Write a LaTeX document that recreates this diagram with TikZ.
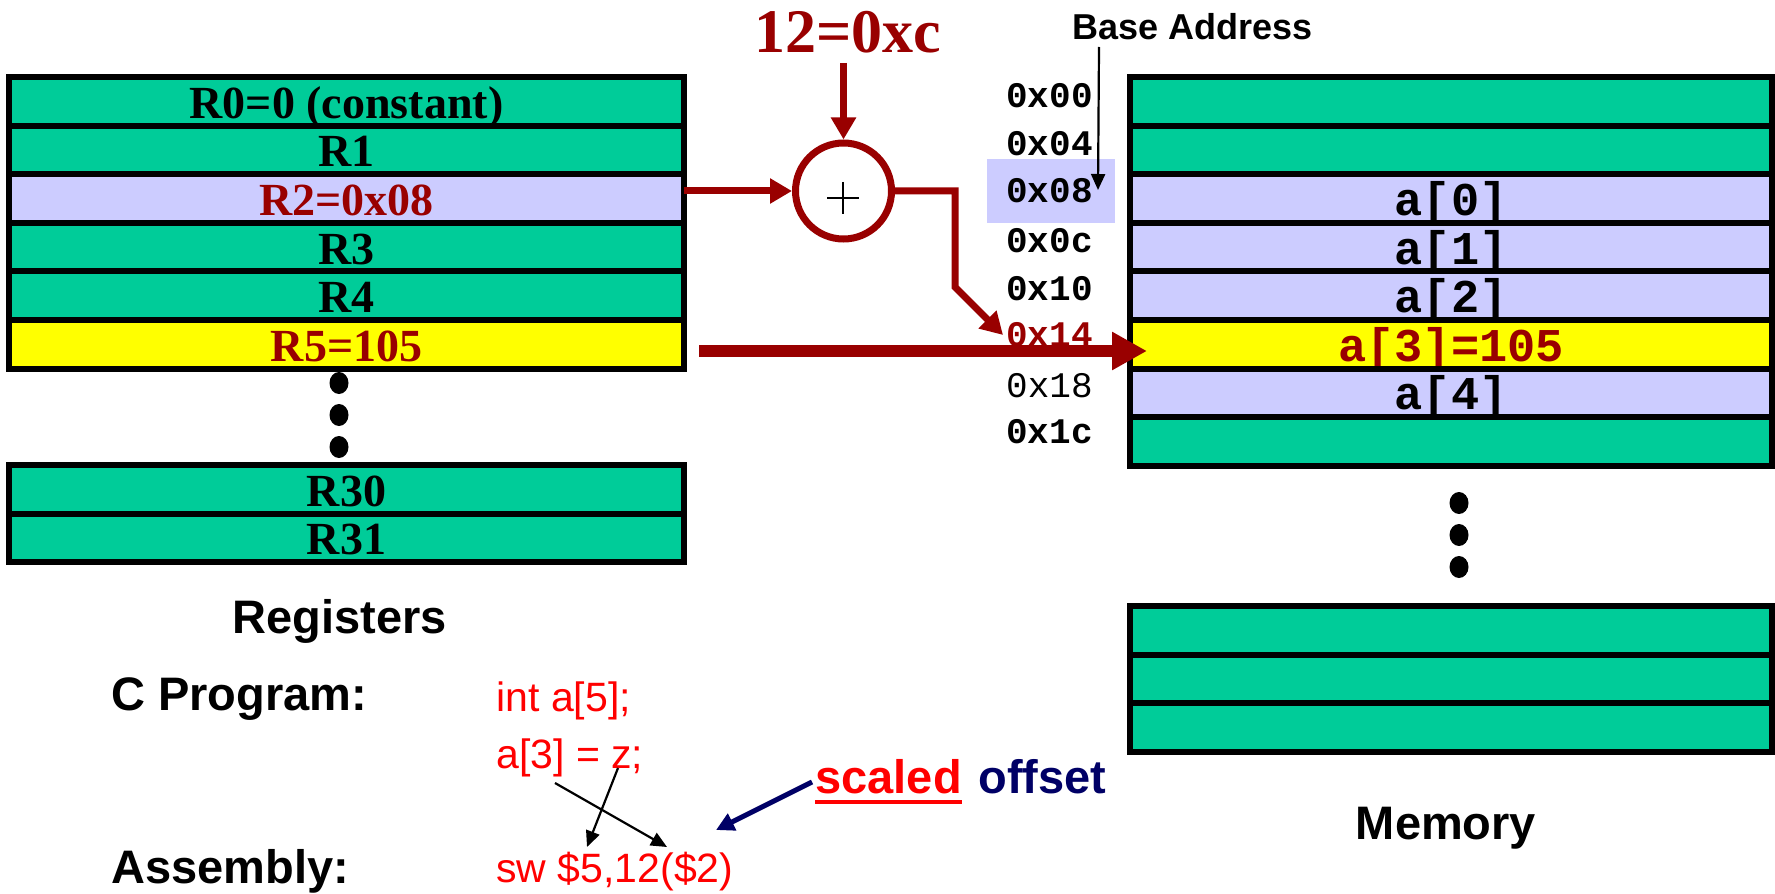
\documentclass[tikz,border=0pt]{standalone}
\usepackage{fontspec}
\setmainfont{Liberation Serif}
\newfontfamily\arialf{Liberation Sans}
\newfontfamily\monof{Liberation Mono}
\usetikzlibrary{arrows.meta,calc}
\definecolor{memgreen}{HTML}{00CC99}
\definecolor{lav}{HTML}{CCCCFF}
\definecolor{yel}{HTML}{FFFF00}
\definecolor{dred}{HTML}{990000}
\definecolor{navyc}{HTML}{000066}
\definecolor{pred}{HTML}{FF0000}
\begin{document}
\begin{tikzpicture}[x=0.5pt,y=-0.5pt,
  regrow/.style={draw=black, line width=3pt, minimum width=337.5pt, minimum height=24.3pt,
    inner sep=0pt, outer sep=0pt, text height=17pt, text depth=0pt,
    font=\fontsize{23}{23}\selectfont\bfseries},
  memrow/.style={draw=black, line width=3pt, minimum width=321pt, minimum height=24.3pt,
    inner sep=0pt, outer sep=0pt, text height=17pt, text depth=0pt,
    font=\fontsize{23.5}{23.5}\selectfont\monof\bfseries},
  addr/.style={anchor=base east, inner sep=0pt, font=\fontsize{18}{18}\selectfont\monof\bfseries},
  lab/.style={inner sep=0pt, font=\fontsize{23.5}{23.5}\selectfont\arialf\bfseries},
  code/.style={anchor=base west, inner sep=0pt, text=pred, font=\fontsize{20.5}{20.5}\selectfont\arialf},
  redarr/.style={draw=dred, line width=3.5pt, -{Triangle[length=11pt,width=12pt]}},
  bigarr/.style={draw=dred, line width=6pt, -{Triangle[length=17.5pt,width=18pt]}},
  thinarr/.style={draw=black, line width=1.1pt, -{Triangle[length=8pt,width=7pt]}},
  navyarr/.style={draw=navyc, line width=2.5pt, -{Triangle[length=9pt,width=9pt]}},
  dot/.style={fill=black}
]
\useasboundingbox (0,0) rectangle (1775,893);

% registers
\node[regrow, fill=memgreen] (r0) at (346.5,101.3) {R0=0 (constant)};
\node[regrow, fill=memgreen] (r1) at (346.5,149.9) {R1};
\node[regrow, fill=lav, text=dred] (r2) at (346.5,198.5) {R2=0x08};
\node[regrow, fill=memgreen] (r3) at (346.5,247.1) {R3};
\node[regrow, fill=memgreen] (r4) at (346.5,295.7) {R4};
\node[regrow, fill=yel, text=dred] (r5) at (346.5,344.3) {R5=105};
\fill[dot] (339,383) ellipse [x radius=4.75pt, y radius=5.5pt];
\fill[dot] (339,415) ellipse [x radius=4.75pt, y radius=5.5pt];
\fill[dot] (339,447) ellipse [x radius=4.75pt, y radius=5.5pt];
\node[regrow, fill=memgreen] (r30) at (346.5,489.3) {R30};
\node[regrow, fill=memgreen] (r31) at (346.5,537.9) {R31};

% memory
\node[memrow, fill=memgreen] (m0) at (1451,101.3) {};
\node[memrow, fill=memgreen] (m1) at (1451,149.9) {};
\node[memrow, fill=lav] (m2) at (1451,198.5) {a[0]};
\node[memrow, fill=lav] (m3) at (1451,247.1) {a[1]};
\node[memrow, fill=lav] (m4) at (1451,295.7) {a[2]};
\node[memrow, fill=yel, text=dred] (m5) at (1451,344.3) {a[3]=105};
\node[memrow, fill=lav] (m6) at (1451,392.9) {a[4]};
\node[memrow, fill=memgreen] (m7) at (1451,441.5) {};
\fill[dot] (1459,503) ellipse [x radius=4.75pt, y radius=5.5pt];
\fill[dot] (1459,535) ellipse [x radius=4.75pt, y radius=5.5pt];
\fill[dot] (1459,567) ellipse [x radius=4.75pt, y radius=5.5pt];
\node[memrow, fill=memgreen] (n0) at (1451,630.3) {};
\node[memrow, fill=memgreen] (n1) at (1451,678.9) {};
\node[memrow, fill=memgreen] (n2) at (1451,727.5) {};

% addresses
\fill[lav] (987,159) rectangle (1115,223);
\node[addr] (a00) at (1093,108) {0x00};
\node[addr] (a04) at (1093,156) {0x04};
\node[addr] (a08) at (1093,203) {0x08};
\node[addr] (a0c) at (1093,252) {0x0c};
\node[addr] (a10) at (1093,300) {0x10};
\node[addr, text=dred] (a14) at (1093,346) {0x14};
\node[addr, font=\fontsize{18}{18}\selectfont\monof] (a18) at (1093,397) {0x18};
\node[addr] (a1c) at (1093,443) {0x1c};

% base address
\node[lab, anchor=base west, font=\fontsize{18}{18}\selectfont\arialf\bfseries] (ba) at (1072,40) {Base Address};
\coordinate (baS) at (1099,47);
\coordinate (baE) at (1098,190);
\draw[thinarr] (baS) -- (baE);

% adder
\node[anchor=base, inner sep=0pt, text=dred, font=\fontsize{31}{31}\selectfont\bfseries] (imm) at (847.5,53) {12=0xc};
\node[circle, draw=dred, line width=3.5pt, fill=white, minimum size=48pt, inner sep=0pt] (add) at (843.5,191) {};
\draw[black, line width=1.3pt] (827,198) -- (859,198) (843,182) -- (843,214);
\coordinate (immS) at (843.5,63);
\draw[redarr] (immS) -- (add.north);
\draw[redarr] (r2.east |- add.west) -- (add.west);
\coordinate (bend) at (955,287);
\coordinate (t14) at (1003,335);
\draw[redarr, line join=miter] (add.east) -| (bend) -- (t14);

% big arrow
\coordinate (bigS) at (699,351);
\coordinate (bigE) at (1147,351);
\draw[bigarr] (bigS) -- (bigE);

% labels
\node[lab, anchor=base] (reglab) at (340,633) {Registers};
\node[lab, anchor=base] (memlab) at (1446,839) {Memory};
\node[lab, anchor=base west] (cprog) at (111,710) {C Program:};
\node[lab, anchor=base west] (asm) at (111,883) {Assembly:};
\node[code] (c1) at (496,711) {int a[5];};
\node[code] (c2) at (496,768) {a[3] = z;};
\node[code] (c3) at (496,882) {sw \$5,12(\$2)};

\coordinate (zS) at (618,768);
\coordinate (zE) at (587,847);
\coordinate (iS) at (555,783);
\coordinate (iE) at (667,847);
\draw[thinarr] (zS) -- (zE);
\draw[thinarr] (iS) -- (iE);

\node[lab, anchor=base west, text=pred] (sc) at (815,793) {scaled};
\node[lab, anchor=base west, text=navyc] (off) at (978,793) {offset};
\draw[pred, line width=2.2pt] ([yshift=-4.5pt]sc.base west) -- ([yshift=-4.5pt]sc.base east);
\coordinate (nS) at (812,782);
\coordinate (nE) at (716,830);
\draw[navyarr] (nS) -- (nE);
\end{tikzpicture}
\end{document}
